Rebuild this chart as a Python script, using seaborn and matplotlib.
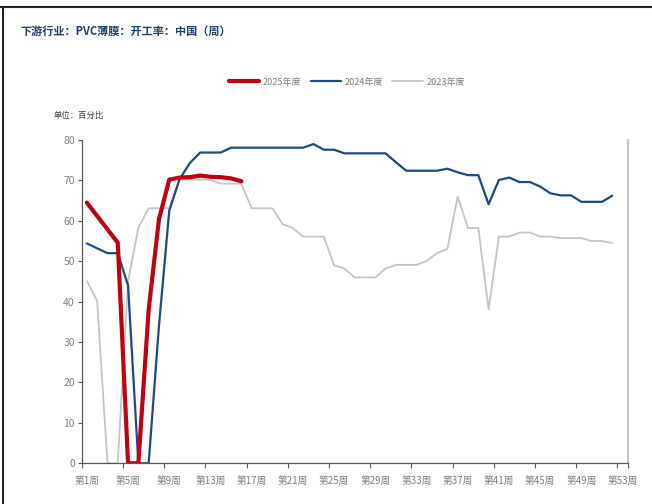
import numpy as np
import pandas as pd
import matplotlib
matplotlib.use("Agg")
import matplotlib.pyplot as plt
from matplotlib.lines import Line2D
import seaborn as sns

# weekly operating rate, %
weeks_2025 = list(range(1, 17))
rate_2025 = [64.5, 61.2, 57.9, 54.6, 0, 0, 38.0, 60.4, 70.2, 70.7, 70.8, 71.2,
             70.9, 70.8, 70.5, 69.8]

weeks_2024 = list(range(1, 53))
rate_2024 = [54.4, 53.2, 52.0, 52.0, 44.0, 0, 0, 34.0, 62.5, 70.3, 74.3, 76.9,
             76.9, 76.9, 78.1, 78.1, 78.1, 78.1, 78.1, 78.1, 78.1, 78.1, 79.0, 77.6,
             77.6, 76.7, 76.7, 76.7, 76.7, 76.7, 74.5, 72.4, 72.4, 72.4, 72.4, 72.9,
             72.0, 71.3, 71.3, 64.1, 70.1, 70.7, 69.6, 69.6, 68.5, 66.8, 66.3, 66.3,
             64.7, 64.7, 64.7, 66.2]

weeks_2023 = list(range(1, 53))
rate_2023 = [45.1, 40.2, 0, 0, 45.0, 58.3, 63.1, 63.1, 63.1, 70.2, 70.2, 70.2,
             70.1, 69.2, 69.2, 69.2, 63.1, 63.1, 63.1, 59.2, 58.2, 56.1, 56.1, 56.1,
             49.0, 48.2, 46.0, 46.0, 46.0, 48.2, 49.1, 49.1, 49.1, 50.1, 52.0, 53.1,
             66.0, 58.2, 58.2, 38.1, 56.1, 56.1, 57.1, 57.1, 56.1, 56.1, 55.7, 55.7,
             55.7, 55.0, 55.0, 54.5]

tick_weeks = list(range(1, 54, 4))
tick_labels = [f"第{w}周" for w in tick_weeks]

sns.set_style("white")
plt.rcParams["font.family"] = ["Noto Sans CJK SC", "DejaVu Sans"]

fig = plt.figure(figsize=(6.52, 5.04), dpi=100)
ax = fig.add_axes([0.1253, 0.0808, 0.8374, 0.6414])

sns.lineplot(x=weeks_2023, y=rate_2023, color="#c4c4c4", linewidth=1.3, label="2023年度", ax=ax)
sns.lineplot(x=weeks_2024, y=rate_2024, color="#1c4a8c", linewidth=1.6, label="2024年度", ax=ax)
sns.lineplot(x=weeks_2025, y=rate_2025, color="#c00010", linewidth=3.0, label="2025年度", ax=ax)

ax.set_xlim(0.5, 53.5)
ax.set_ylim(0, 80)
ax.set_yticks(range(0, 81, 10))
ax.tick_params(axis="y", labelsize=7.5, labelcolor="#7f7f7f", color="#595959",
               length=3, width=0.8, pad=2, left=True)

# tick marks on the week boundaries, labels on the weeks
ax.set_xticks([w - 0.5 for w in tick_weeks] + [53.5], minor=True)
ax.set_xticks(tick_weeks)
ax.set_xticklabels(tick_labels)
ax.tick_params(axis="x", which="major", length=0, labelsize=7, labelcolor="#7f7f7f", pad=9)
ax.tick_params(axis="x", which="minor", length=3.5, width=0.8, color="#595959", bottom=True)

for s in ["left", "bottom"]:
    ax.spines[s].set_color("#595959")
    ax.spines[s].set_linewidth(0.9)
ax.spines["top"].set_visible(False)
ax.spines["right"].set_color("#c8c8c8")
ax.spines["right"].set_linewidth(1.6)
ax.set_xlabel("")
ax.set_ylabel("")

handles, labels = ax.get_legend_handles_labels()
order = [2, 1, 0]
ax.legend([handles[i] for i in order], [labels[i] for i in order],
          loc="center", bbox_to_anchor=(0.532, 0.837), bbox_transform=fig.transFigure,
          ncol=3, frameon=False, fontsize=6.5, handlelength=3.4, columnspacing=1.0,
          handletextpad=0.4, labelcolor="#7f7f7f")

fig.text(0.031, 0.938, "下游行业：PVC薄膜：开工率：中国（周）", fontsize=8,
         fontweight="bold", color="#1f3f73", va="center", ha="left")
fig.text(0.082, 0.772, "单位：百分比", fontsize=6, color="#404040", va="center", ha="left")

# outer frame lines
fig.add_artist(Line2D([0, 1], [0.987, 0.987], color="#222222", linewidth=1.5, transform=fig.transFigure))
fig.add_artist(Line2D([0.005, 0.005], [0, 0.987], color="#222222", linewidth=1.5, transform=fig.transFigure))

fig.savefig("out.png", dpi=100)
